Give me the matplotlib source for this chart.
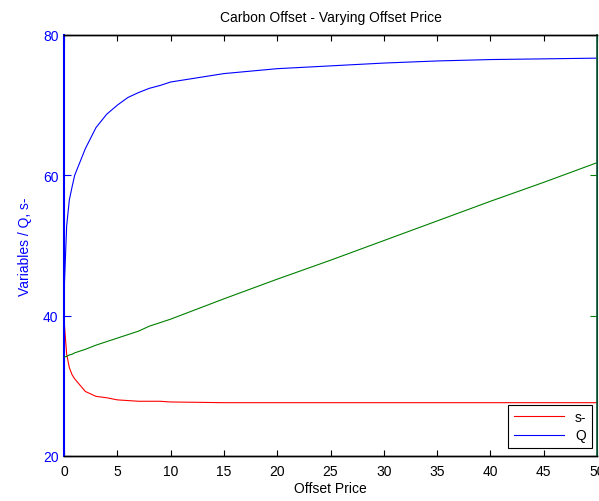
import matplotlib.pyplot as plt

plt.rcParams['font.family'] = ['Liberation Sans', 'DejaVu Sans']

# Data
price = [0, 0.25, 0.5, 0.75, 1, 2, 3, 4, 5, 6, 7, 8, 9, 10,
         15, 20, 25, 30, 35, 40, 45, 50]
q = [43.0, 52.8, 56.5, 58.3, 60.0, 63.8, 66.8, 68.7, 70.0, 71.1, 71.8, 72.4, 72.8, 73.3,
     74.5, 75.2, 75.6, 76.0, 76.3, 76.5, 76.6, 76.7]
s_minus = [39.5, 34.5, 32.6, 31.6, 31.0, 29.2, 28.5, 28.3, 28.0, 27.9, 27.8, 27.8, 27.8, 27.7,
           27.6, 27.6, 27.6, 27.6, 27.6, 27.6, 27.6, 27.6]
third = [34.1, 34.2, 34.4, 34.5, 34.7, 35.2, 35.8, 36.3, 36.8, 37.3, 37.8, 38.5, 39.0, 39.5,
         42.4, 45.2, 47.9, 50.7, 53.5, 56.3, 59.0, 61.8]

blue = (0, 0, 1)
green = (0, 0.5, 0)

fig = plt.figure(figsize=(5.99, 5.02), dpi=100)
ax = fig.add_axes([64 / 599, 45 / 502, 533 / 599, 421 / 502])
ax2 = ax.twinx()

l_s, = ax.plot(price, s_minus, color=(1, 0, 0), lw=0.8, label='s-')
l_q, = ax.plot(price, q, color=blue, lw=0.8, label='Q')
ax2.plot(price, third, color=green, lw=0.8)

ax.set_xlim(0, 50)
ax.set_ylim(20, 80)
ax2.set_ylim(20, 80)
ax.set_xticks(range(0, 51, 5))
ax.set_yticks([20, 40, 60, 80])
ax2.set_yticks([20, 40, 60, 80])

ax.tick_params(axis='x', direction='in', length=4, top=True, labelsize=10, pad=6, colors='black')
ax.tick_params(axis='y', direction='in', length=5, colors=blue, labelsize=10, pad=4)
# right-hand labels fall outside the picture in the original
ax2.tick_params(axis='y', direction='in', length=5, colors=green, labelright=False)

ax.spines['left'].set_color(blue)
ax.spines['left'].set_linewidth(1.5)
ax2.spines['left'].set_visible(False)
ax2.spines['right'].set_color('#0b5a3a')
ax2.spines['right'].set_linewidth(1.2)
for sp in ['top', 'bottom']:
    ax.spines[sp].set_linewidth(1.0)
    ax2.spines[sp].set_linewidth(1.0)

ax.set_title('Carbon Offset - Varying Offset Price', fontsize=10, pad=10)
ax.set_xlabel('Offset Price', fontsize=10, labelpad=2)
ax.set_ylabel('Variables / Q, s-', fontsize=10, color=blue, labelpad=8)

leg = ax2.legend([l_s, l_q], ['s-', 'Q'], loc='lower right', bbox_to_anchor=(0.991, 0.019),
                 borderaxespad=0, fancybox=False, edgecolor='black', framealpha=1,
                 fontsize=10, handlelength=3.6, labelspacing=0.3)
leg.get_frame().set_linewidth(0.8)

fig.savefig('out.png', dpi=100)
